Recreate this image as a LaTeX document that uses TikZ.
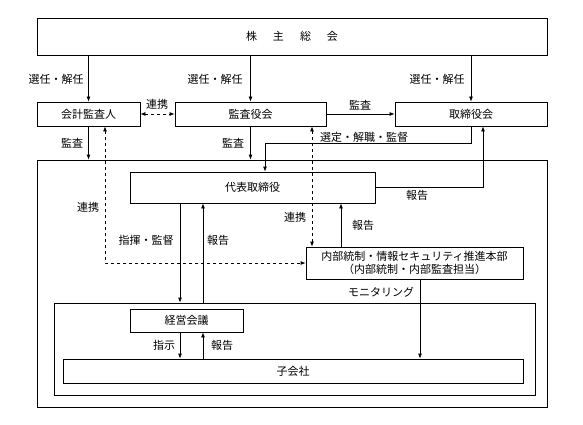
\documentclass[tikz,border=0pt]{standalone}
\usepackage{fontspec}
\newfontfamily\jp{Noto Sans CJK JP}
\usetikzlibrary{arrows.meta}

\tikzset{
  box/.style={draw,thick,font=\jp\fontsize{11}{13}\selectfont,inner sep=0pt,align=center},
  lbl/.style={font=\jp\fontsize{11}{13}\selectfont,inner sep=1pt},
  arr/.style={-{Latex[length=5pt,width=4pt]},thick},
  darr/.style={{Latex[length=5pt,width=4pt]}-{Latex[length=5pt,width=4pt]},thick,dashed}
}

\begin{document}
\begin{tikzpicture}[x=1pt,y=-1pt,line width=0.7pt]
  \useasboundingbox (0,0) rectangle (583,425);

  % boxes
  \node[box,minimum width=510,minimum height=37] (soukai) at (292,36.5)
    {株\hspace{16pt}主\hspace{16pt}総\hspace{16pt}会};
  \node[box,minimum width=103,minimum height=24] (kaikei) at (88.5,114) {会計監査人};
  \node[box,minimum width=151,minimum height=24] (kansa) at (250.5,114) {監査役会};
  \node[box,minimum width=152,minimum height=24] (torishimari) at (471,114) {取締役会};
  \node[box,minimum width=510,minimum height=247] (shanai) at (292,283.5) {};
  \node[box,minimum width=245,minimum height=31] (daihyo) at (252.5,187.5) {代表取締役};
  \node[box,minimum width=217,minimum height=32] (naibu) at (414.5,263)
    {内部統制・情報セキュリティ推進本部\\（内部統制・内部監査担当）};
  \node[box,minimum width=481,minimum height=92] (group) at (294.5,349) {};
  \node[box,minimum width=113,minimum height=23] (keiei) at (186.5,320.5) {経営会議};
  \node[box,minimum width=460,minimum height=24] (kogaisha) at (293,371) {子会社};

  % shareholders
  \draw[arr] (soukai.south -| kaikei) -- (kaikei.north);
  \draw[arr] (soukai.south -| kansa) -- (kansa.north);
  \draw[arr] (soukai.south -| torishimari) -- (torishimari.north);
  \node[lbl] at (56,79) {選任・解任};
  \node[lbl] at (215,79) {選任・解任};
  \node[lbl] at (437,79) {選任・解任};

  \draw[darr] (kaikei.east) -- (kansa.west);
  \node[lbl] at (157,104) {連携};
  \draw[arr] (kansa.east) -- (torishimari.west);
  \node[lbl] at (360,105) {監査};

  \draw[arr] (kaikei.south) -- (kaikei.south |- shanai.north);
  \draw[arr] (kansa.south) -- (kansa.south |- shanai.north);
  \node[lbl] at (72,143) {監査};
  \node[lbl] at (233,143) {監査};

  \draw[arr] (torishimari.south) -- ++(0,17) -| ([xshift=12.5]daihyo.north);
  \node[lbl] at (364,137) {選定・解職・監督};
  \draw[arr] (daihyo.east) -| ([xshift=12]torishimari.south);
  \node[lbl] at (417,195) {報告};

  % internal control
  \draw[darr] ([xshift=16.5]kaikei.south) |- (naibu.west);
  \node[lbl] at (88,207) {連携};
  \draw[darr] ([xshift=61.5]kansa.south) -- ([xshift=61.5]kansa.south |- naibu.north);
  \node[lbl] at (295,217) {連携};
  \draw[arr] ([xshift=-73.5]naibu.north) -- ([xshift=-73.5]naibu.north |- daihyo.south);
  \node[lbl] at (363,225) {報告};

  \draw[arr] ([xshift=-72.5]daihyo.south) -- ([xshift=-72.5]daihyo.south |- group.north);
  \draw[arr] ([xshift=-49.5]daihyo.south |- group.north) -- ([xshift=-49.5]daihyo.south);
  \node[lbl] at (146,240) {指揮・監督};
  \node[lbl] at (218,240) {報告};

  % group
  \draw[arr] ([xshift=-6.5]keiei.south) -- ([xshift=-6.5]keiei.south |- kogaisha.north);
  \draw[arr] ([xshift=16.5]keiei.south |- kogaisha.north) -- ([xshift=16.5]keiei.south);
  \node[lbl] at (164,345) {指示};
  \node[lbl] at (222,345) {報告};
  \draw[arr] ([xshift=5.5]naibu.south) -- ([xshift=5.5]naibu.south |- kogaisha.north);
  \node[lbl] at (381,292) {モニタリング};
\end{tikzpicture}
\end{document}
